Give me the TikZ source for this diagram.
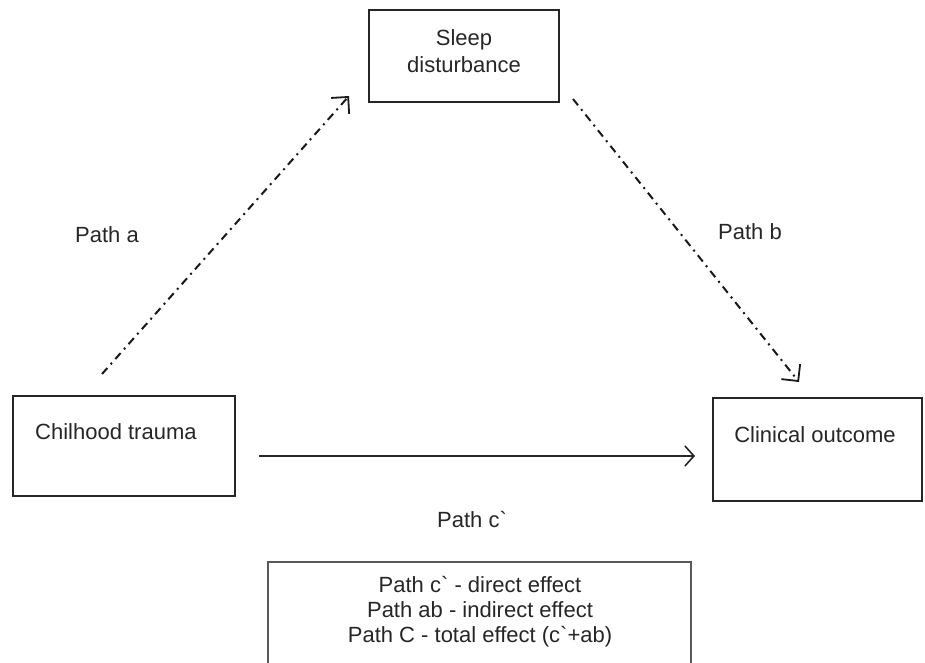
\documentclass[tikz,border=0pt]{standalone}
\usepackage{fontspec}
\setmainfont{Liberation Sans}[Ligatures=TeXOff]
\usetikzlibrary{arrows.meta}
\begin{document}
\begin{tikzpicture}[x=1pt,y=-1pt,
  box/.style={draw=black!85, line width=2pt, inner sep=0pt, fill=none},
  txt/.style={font=\fontsize{22}{27}\selectfont, inner sep=0pt, text=black!85},
  barb/.style={-{Straight Barb[length=9pt,width=20pt,line width=1.6pt]}},
  dbarb/.style={-{Straight Barb[length=12pt,width=24pt,line width=1.8pt]}},
  dashdot/.style={dbarb, line width=2pt, draw=black!90, dash pattern=on 8pt off 5pt on 2pt off 5pt},
  solidarrow/.style={barb, line width=1.4pt, draw=black!85}]
\useasboundingbox (0,0) rectangle (925,663);
\clip (0,0) rectangle (925,663);
% boxes
\node[box, minimum width=190pt, minimum height=92pt] (sleep) at (464,56) {};
\node[txt, align=center] (sleeptxt) at (464,51) {Sleep\\disturbance};
\node[box, minimum width=222pt, minimum height=100pt] (trauma) at (124,446) {};
\node[txt, anchor=west] (traumatxt) at (35,432) {Chilhood trauma};
\node[box, minimum width=209pt, minimum height=103pt] (outcome) at (817.5,449.5) {};
\node[txt] (outcometxt) at (815,435) {Clinical outcome};
\node[box, draw=black!65, minimum width=423pt, minimum height=140pt] (legend) at (479.5,632) {};
\node[txt, align=center, font=\fontsize{22}{25}\selectfont] (legendtxt) at (480,612) {Path c` - direct effect\\Path ab - indirect effect\\Path C - total effect (c`+ab)};
% connector end points anchored to boxes
\coordinate (a1) at ([xshift=90pt,yshift=21pt]trauma.north west);
\coordinate (a2) at ([xshift=-19pt,yshift=7pt]sleep.south west);
\coordinate (b1) at ([xshift=13pt,yshift=4pt]sleep.south east);
\coordinate (b2) at ([xshift=87pt,yshift=15pt]outcome.north west);
\coordinate (c1) at ([xshift=23pt,yshift=-10pt]trauma.east);
\coordinate (c2) at ([xshift=-17pt,yshift=-6.5pt]outcome.west);
% connectors
\draw[dashdot] (a1) -- (a2);
\draw[dashdot] (b1) -- (b2);
\draw[solidarrow] (c1) -- (c2);
% labels
\node[txt, anchor=west] (la) at (75,235) {Path a};
\node[txt, anchor=west] (lb) at (718,232) {Path b};
\node[txt, anchor=west] (lc) at (437,520) {Path c`};
\end{tikzpicture}
\end{document}
